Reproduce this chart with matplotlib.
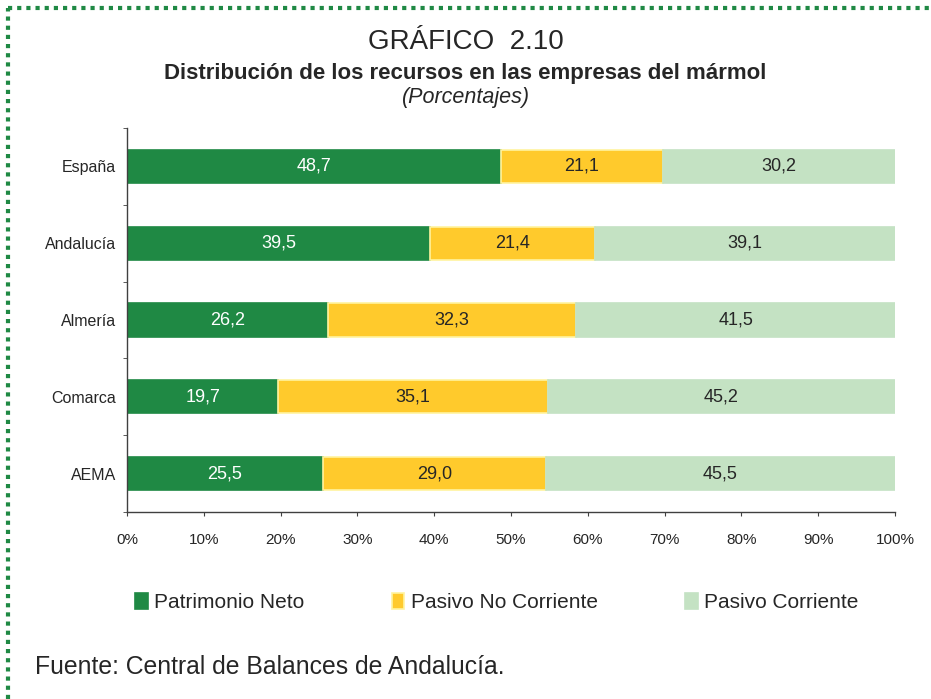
import matplotlib.pyplot as plt
import matplotlib.lines as mlines
from matplotlib import font_manager
import numpy as np

#-- data ---------------------------------------------------------------------
regiones = ['España', 'Andalucía', 'Almería', 'Comarca', 'AEMA']
patrimonio_neto = [48.7, 39.5, 26.2, 19.7, 25.5]
pasivo_no_corriente = [21.1, 21.4, 32.3, 35.1, 29.0]
pasivo_corriente = [30.2, 39.1, 41.5, 45.2, 45.5]
series_names = ['Patrimonio Neto', 'Pasivo No Corriente', 'Pasivo Corriente']
#------------------------------------------------------------------------------

names = {f.name for f in font_manager.fontManager.ttflist}
narrow = 'Liberation Sans Narrow' if 'Liberation Sans Narrow' in names else 'Liberation Sans'
plt.rcParams['font.family'] = [narrow, 'DejaVu Sans']

c_green = '#1f8944'
c_yellow = '#ffca2c'
c_light = '#c4e2c3'
txt = '#262626'

fig = plt.figure(figsize=(9.31, 6.99), dpi=100)
ax = fig.add_axes([127/931, 1-512/699, (895-127)/931, (512-128)/699])

y = np.arange(len(regiones))
h = 0.43
left = np.zeros(len(regiones))
colors = [c_green, c_yellow, c_light]
edges = [c_green, '#fff3a0', c_light]
for vals, col, ec, name in zip([patrimonio_neto, pasivo_no_corriente, pasivo_corriente],
                               colors, edges, series_names):
    vals = np.array(vals)
    ax.barh(y, vals, left=left, height=h, color=col, edgecolor=ec, linewidth=1.2, label=name)
    for yi, l, v in zip(y, left, vals):
        ax.text(l + v/2, yi, f'{v:.1f}'.replace('.', ','), ha='center', va='center',
                fontsize=13, color='white' if col == c_green else txt)
    left += vals

ax.set_xlim(0, 100)
ax.set_ylim(len(regiones)-0.5, -0.5)
ax.set_xticks(np.arange(0, 101, 10))
ax.set_xticklabels([f'{v}%' for v in range(0, 101, 10)], fontsize=11, color=txt)
ax.set_yticks(y)
ax.set_yticklabels(regiones, fontsize=11.5, color=txt)
ax.tick_params(axis='y', length=0, pad=8)
ax.set_yticks(np.arange(-0.5, len(regiones), 1), minor=True)
ax.tick_params(axis='y', which='minor', length=3, color='#404040')
ax.tick_params(axis='x', length=3, direction='out', color='#404040', pad=12)
for s in ['top', 'right']:
    ax.spines[s].set_visible(False)
for s in ['left', 'bottom']:
    ax.spines[s].set_color('#404040')
    ax.spines[s].set_linewidth(1)

leg = ax.legend(loc='center left', bbox_to_anchor=(0.011, -0.235), ncol=3, frameon=False,
                fontsize=15, handlelength=0.6, handleheight=0.8, handletextpad=0.3,
                columnspacing=4.2, labelcolor=txt, borderaxespad=0, borderpad=0)

fig.text(0.5, 1-42/699, 'GRÁFICO  2.10', ha='center', va='center', fontsize=20, color=txt)
fig.text(0.5, 1-73/699, 'Distribución de los recursos en las empresas del mármol',
         ha='center', va='center', fontsize=16, fontweight='bold', color=txt)
fig.text(0.5, 1-98/699, '(Porcentajes)', ha='center', va='center', fontsize=15.5,
         style='italic', color=txt)
fig.text(35/931, 1-667/699, 'Fuente: Central de Balances de Andalucía.', ha='left',
         va='center', fontsize=17.8, color=txt)

#-- dotted green frame on top and left
fig.add_artist(mlines.Line2D([8/931, 1], [1-8/699, 1-8/699], color=c_green, lw=3,
                             dashes=(1, 1.2), transform=fig.transFigure))
fig.add_artist(mlines.Line2D([8/931, 8/931], [0, 1-8/699], color=c_green, lw=3,
                             dashes=(1, 1.2), transform=fig.transFigure))

fig.savefig('out.png', dpi=100)
